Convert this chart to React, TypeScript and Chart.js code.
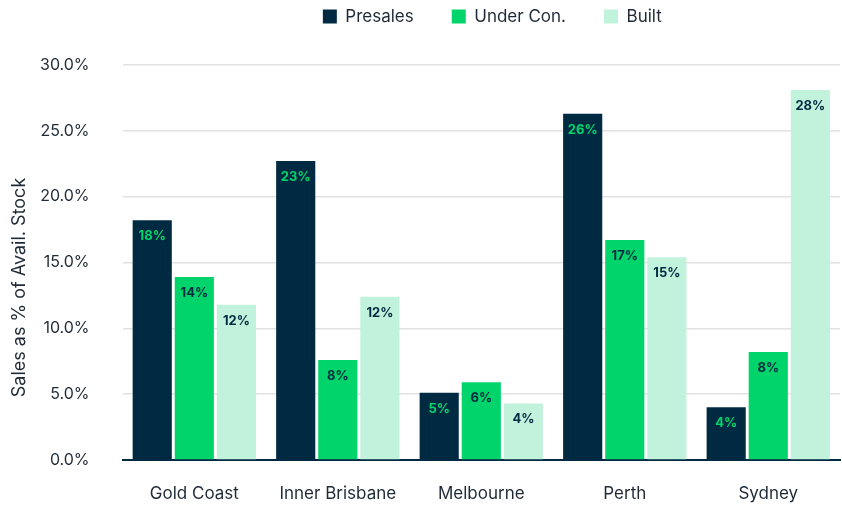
import React, { useEffect, useRef } from "react";
import { Chart, registerables } from "chart.js";

Chart.register(...registerables);

const categories = ["Gold Coast", "Inner Brisbane", "Melbourne", "Perth", "Sydney"];
const presales = [18.2, 22.7, 5.1, 26.3, 4.0];
const underCon = [13.9, 7.6, 5.9, 16.7, 8.2];
const built = [11.8, 12.4, 4.3, 15.4, 28.1];
const yTicks = [0, 5, 10, 15, 20, 25, 30];
const seriesNames = ["Presales", "Under Con.", "Built"];
const seriesColors = ["#002a42", "#00d46a", "#c1f2db"];
const labelColors = ["#00d46a", "#002a42", "#002a42"];
const yTitle = "Sales as % of Avail. Stock";

const FONT = "Inter, 'Open Sans', sans-serif";
const TEXT = "#1f2a36";

const labelPlugin = {
  id: "barLabels",
  afterDatasetsDraw(chart: any) {
    const ctx = chart.ctx;
    ctx.save();
    ctx.font = `bold 13px ${FONT}`;
    ctx.textAlign = "center";
    ctx.textBaseline = "middle";
    chart.data.datasets.forEach((ds: any, i: number) => {
      const meta = chart.getDatasetMeta(i);
      meta.data.forEach((bar: any, j: number) => {
        const v = ds.data[j];
        ctx.fillStyle = labelColors[i];
        ctx.fillText(Math.round(v) + "%", bar.x, bar.y + 16);
      });
    });
    ctx.restore();
  },
};

const yTitlePlugin = {
  id: "yTitle",
  afterDraw(chart: any) {
    const ctx = chart.ctx;
    const a = chart.chartArea;
    ctx.save();
    ctx.translate(20, (a.top + a.bottom) / 2 + 25);
    ctx.rotate(-Math.PI / 2);
    ctx.font = `18px ${FONT}`;
    ctx.fillStyle = TEXT;
    ctx.textAlign = "center";
    ctx.textBaseline = "middle";
    ctx.fillText(yTitle, 0, 0);
    ctx.restore();
  },
};

const legendHeightPlugin = {
  id: "legendHeight",
  beforeInit(chart: any) {
    const legend = chart.legend;
    if (!legend) return;
    const orig = legend.fit;
    legend.fit = function () {
      orig.call(this);
      this.height = 95;
    };
  },
  afterLayout(chart: any) {
    const legend = chart.legend;
    if (!legend) return;
    legend.left += 11;
    legend.right += 11;
  },
};

export default function App() {
  const ref = useRef<HTMLCanvasElement | null>(null);
  useEffect(() => {
    if (!ref.current) return;
    const data = [presales, underCon, built];
    const chart = new Chart(ref.current, {
      type: "bar",
      data: {
        labels: categories,
        datasets: data.map((d, i) => ({
          label: seriesNames[i],
          data: d,
          backgroundColor: seriesColors[i],
          borderWidth: 0,
          categoryPercentage: 0.88,
          barPercentage: 0.93,
        })),
      },
      options: {
        animation: false,
        responsive: false,
        maintainAspectRatio: false,
        layout: { padding: { left: 7, right: 2, top: -30, bottom: -22.4 } },
        plugins: {
          tooltip: { enabled: false },
          legend: {
            position: "top",
            fullSize: false,
            labels: {
              boxWidth: 14,
              boxHeight: 14,
              padding: 38,
              color: TEXT,
              font: { family: FONT, size: 17 },
            },
          },
        },
        scales: {
          x: {
            grid: { display: false, drawTicks: false },
            border: { display: true, color: "#002a42", width: 2 },
            ticks: { color: TEXT, font: { family: FONT, size: 17 }, padding: 24 },
          },
          y: {
            min: 0,
            max: 30,
            afterBuildTicks: (axis: any) => {
              axis.ticks = yTicks.map((v) => ({ value: v }));
            },
            ticks: {
              color: TEXT,
              font: { family: FONT, size: 16 },
              padding: 33,
              callback: (v: any) => Number(v).toFixed(1) + "%",
            },
            grid: { color: "#e2e2e2", lineWidth: 1.5, drawTicks: false },
            border: { display: false },
          },
        },
      },
      plugins: [labelPlugin, legendHeightPlugin, yTitlePlugin],
    });
    return () => chart.destroy();
  }, []);
  return (
    <div style={{ position: "fixed", left: 0, top: 0, width: 842, height: 506, background: "#fff" }}>
      <canvas ref={ref} width={842} height={506} />
    </div>
  );
}
